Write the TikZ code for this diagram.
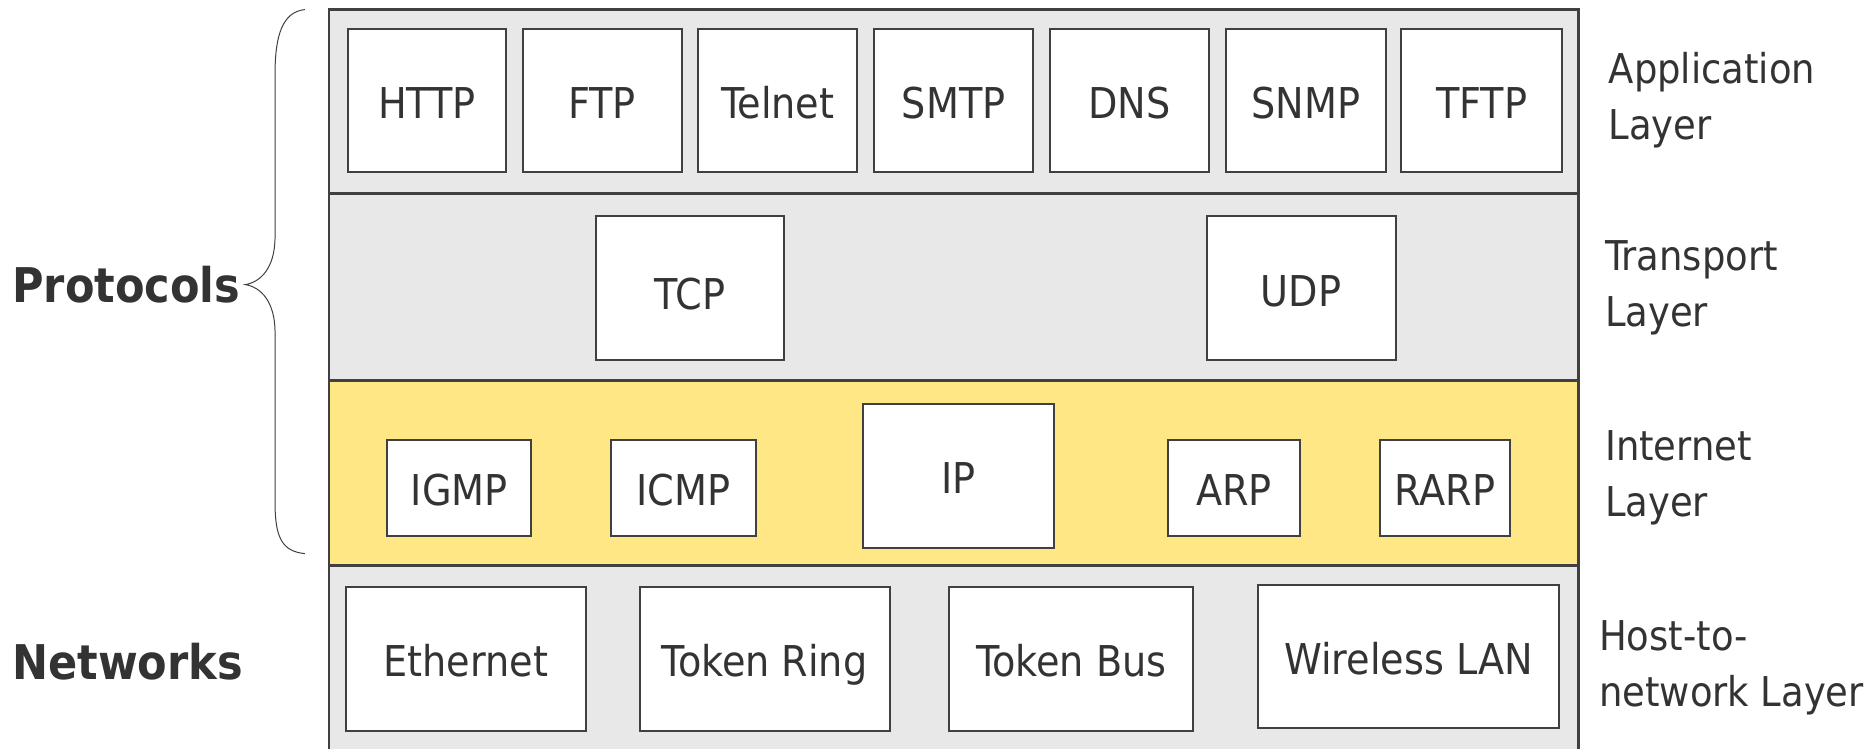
\documentclass[tikz,border=0pt]{standalone}
\usepackage{fontspec}
\setmainfont{DejaVu Sans Condensed}[BoldFont={DejaVu Sans Condensed Bold}]
\definecolor{bandgrey}{HTML}{E8E8E8}
\definecolor{bandyellow}{HTML}{FFE785}
\definecolor{inkgrey}{HTML}{333333}
\definecolor{edgegrey}{HTML}{404040}
\begin{document}
\begin{tikzpicture}[x=0.6pt,y=-0.6pt,
  every node/.style={text=inkgrey},
  band/.style={draw=edgegrey,line width=1.3pt},
  pbox/.style args={#1/#2}{draw=edgegrey,fill=white,line width=1pt,inner sep=0pt,outer sep=0pt,
     minimum width=#1*0.6pt,minimum height=#2*0.6pt,font=\fontsize{21.3}{24}\selectfont,
     text height=19.2pt,text depth=1.15pt},
  layerlabel/.style={anchor=west,align=left,inner sep=0pt,font=\fontsize{20.6}{28}\selectfont},
  sidelabel/.style={anchor=west,inner sep=0pt,font=\fontsize{24}{28}\selectfont\bfseries},
  bracestyle/.style={draw=edgegrey,line width=0.5pt}]
\clip (0,0) rectangle (1568,626);
\fill[white] (0,0) rectangle (1568,626);
% bands
\draw[band,fill=bandgrey] (275,8) rectangle (1320,162);
\draw[band,fill=bandgrey] (275,162) rectangle (1320,318);
\draw[band,fill=bandyellow] (275,318) rectangle (1320,473);
\draw[band,fill=bandgrey] (275,473) rectangle (1320,660);
% application
\node[pbox=132/120] (http) at (357,84) {HTTP};
\node[pbox=133/120] (ftp) at (503.5,84) {FTP};
\node[pbox=133/120] (telnet) at (650.5,84) {Telnet};
\node[pbox=133/120] (smtp) at (797.5,84) {SMTP};
\node[pbox=133/120] (dns) at (944.5,84) {DNS};
\node[pbox=134/120] (snmp) at (1092,84) {SNMP};
\node[pbox=134/120] (tftp) at (1239,84) {TFTP};
% transport
\node[pbox=158/120] (tcp) at (577,241) {\raisebox{-1.8pt}{TCP}};
\node[pbox=158/120] (udp) at (1088,241) {UDP};
% internet
\node[pbox=120/80] (igmp) at (384,408) {IGMP};
\node[pbox=121/80] (icmp) at (571.5,408) {ICMP};
\node[pbox=159/120] (ip) at (801.5,398) {IP};
\node[pbox=110/80] (arp) at (1032,408) {ARP};
\node[pbox=109/80] (rarp) at (1208.5,408) {RARP};
% host-to-network
\node[pbox=201/120] (ethernet) at (389.5,551) {Ethernet};
\node[pbox=209/120] (tokenring) at (639.5,551) {Token Ring};
\node[pbox=204/120] (tokenbus) at (896,551) {Token Bus};
\node[pbox=252/120] (wlan) at (1178,549) {Wireless LAN};
% layer labels
\node[layerlabel] (lapp) at (1345,84) {Application\\Layer};
\node[layerlabel] (ltrans) at (1342,240.5) {Transport\\Layer};
\node[layerlabel] (linet) at (1342,399.5) {Internet\\Layer};
\node[layerlabel] (lhost) at (1337,558.5) {Host-to-\\network Layer};
% side labels
\node[sidelabel] (protocols) at (10,238) {Protocols};
\node[sidelabel] (networks) at (10,553) {Networks};
% brace
\coordinate (btop) at (255,8);
\coordinate (btip) at (205,238);
\coordinate (bbot) at (255,463);
\draw[bracestyle] (btop) .. controls (236,10) and (230,30) .. (230,62) -- (230,198)
  .. controls (230,224) and (218,236) .. (btip)
  .. controls (218,240) and (230,252) .. (230,278) -- (230,420)
  .. controls (230,450) and (236,461) .. (bbot);
\end{tikzpicture}
\end{document}
